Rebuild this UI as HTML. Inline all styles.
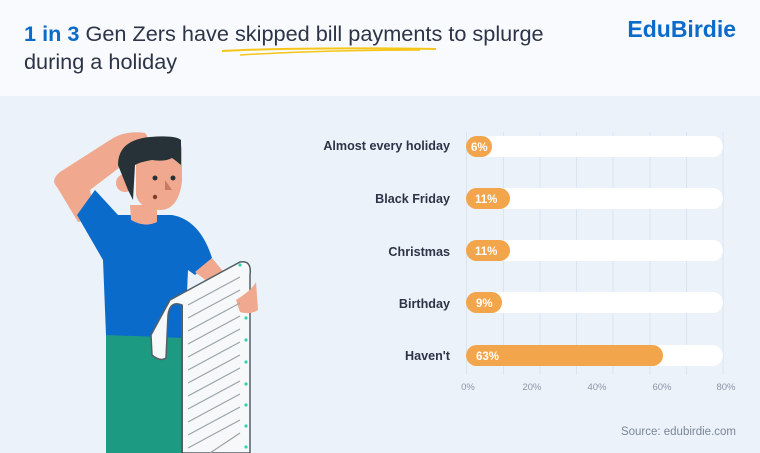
<!DOCTYPE html>
<html><head><meta charset="utf-8"><style>
body{margin:0;width:760px;height:453px;overflow:hidden;background:#ebf2fa;font-family:"Liberation Sans",sans-serif;}
</style></head><body>
<svg width="760" height="453" viewBox="0 0 760 453" xmlns="http://www.w3.org/2000/svg" style="position:absolute;left:0;top:0">
<rect x="0" y="0" width="760" height="96" fill="#f8fafd"/>
<rect x="0" y="96" width="760" height="357" fill="#ebf2fa"/>
<text x="24" y="41" font-size="21.7" fill="#2d3447"><tspan fill="#0b6bcb" font-weight="bold">1 in 3</tspan> Gen Zers have skipped bill payments to splurge</text>
<text x="24" y="69" font-size="21.7" fill="#2d3447">during a holiday</text>
<path d="M222 51 Q300 47 436 49" stroke="#f5c518" stroke-width="2" fill="none"/>
<path d="M240 55 Q320 50 420 50" stroke="#f5c518" stroke-width="1.5" fill="none"/>
<text x="736" y="37" font-size="23" font-weight="bold" fill="#0b6bcb" text-anchor="end">EduBirdie</text>

<g stroke="#d8e6f4" stroke-width="1">
<line x1="466.5" y1="132" x2="466.5" y2="375"/><line x1="503.5" y1="132" x2="503.5" y2="375"/>
<line x1="540" y1="132" x2="540" y2="375"/><line x1="576.5" y1="132" x2="576.5" y2="375"/>
<line x1="613" y1="132" x2="613" y2="375"/><line x1="650" y1="132" x2="650" y2="375"/>
<line x1="686.5" y1="132" x2="686.5" y2="375"/><line x1="723" y1="132" x2="723" y2="375"/>
</g>
<g font-size="12.6" fill="#2d3447" font-weight="bold" text-anchor="end">
<text x="450" y="150">Almost every holiday</text>
<text x="450" y="203">Black Friday</text>
<text x="450" y="256">Christmas</text>
<text x="450" y="308">Birthday</text>
<text x="450" y="360">Haven't</text>
</g>
<g fill="#ffffff">
<rect x="466" y="136" width="257" height="21" rx="10.5"/>
<rect x="466" y="188" width="257" height="21" rx="10.5"/>
<rect x="466" y="240" width="257" height="21" rx="10.5"/>
<rect x="466" y="292" width="257" height="21" rx="10.5"/>
<rect x="466" y="345" width="257" height="21" rx="10.5"/>
</g>
<g fill="#f2a54a">
<rect x="466" y="136" width="26" height="21" rx="10.5"/>
<rect x="466" y="188" width="44" height="21" rx="10.5"/>
<rect x="466" y="240" width="44" height="21" rx="10.5"/>
<rect x="466" y="292" width="36" height="21" rx="10.5"/>
<rect x="466" y="345" width="197" height="21" rx="10.5"/>
</g>
<g font-size="11.5" fill="#fff" font-weight="bold">
<text x="471" y="151">6%</text>
<text x="475" y="203">11%</text>
<text x="475" y="255">11%</text>
<text x="476" y="307">9%</text>
<text x="476" y="360">63%</text>
</g>
<g font-size="9.5" fill="#8b96a8" text-anchor="middle">
<text x="468" y="390">0%</text><text x="532" y="390">20%</text><text x="597" y="390">40%</text><text x="662" y="390">60%</text><text x="726" y="390">80%</text>
</g>
<text x="736" y="435" font-size="11.5" fill="#7a8598" text-anchor="end">Source: edubirdie.com</text>

<path d="M106 330 L185 330 L182 453 L106 453 Z" fill="#1d9a82"/>
<path d="M57 187 Q50 180 60 172 L110 140 Q125 130 145 133 Q152 140 140 152 L90 190 L96 218 L78 222 Z" fill="#f0a98f"/>
<path d="M77 215 L95 190 L118 215 L172 215 Q200 220 212 258 L195 275 L188 270 L185 338 L106 335 L103 260 Z" fill="#0b6bcb"/>
<path d="M130 205 L157 205 L157 222 Q145 228 131 220 Z" fill="#f0a98f"/>
<path d="M195 272 L212 258 L222 270 L230 280 L216 288 Z" fill="#f0a98f"/>
<path d="M136 150 Q138 138 160 138 Q182 136 182 150 L182 182 Q178 210 160 210 Q140 210 136 195 Z" fill="#f0a98f"/>
<circle cx="125" cy="183" r="9" fill="#f0a98f"/>
<path d="M118 165 Q118 140 150 137 Q175 135 181 140 L181 165 Q175 160 172 158 Q165 162 152 160 Q140 162 135 165 L133 200 L128 190 Z" fill="#263238"/>
<circle cx="155" cy="178" r="2.5" fill="#263238"/><circle cx="173" cy="178" r="2.5" fill="#263238"/>
<path d="M165 180 L172 190 L165 190 Z" fill="#c97a5f"/>
<circle cx="155" cy="197" r="2.2" fill="#7a3e2e"/>
<path d="M151 335 L170 300 L240 262 Q252 260 250 275 L250 453 L182 453 L182 305 Q170 300 168 315 L166 358 Q160 362 152 355 Z" fill="#f7f8f9" stroke="#546066" stroke-width="1.5"/>
<path d="M182 453 L182 305" stroke="#546066" stroke-width="2"/>
<path d="M236 300 Q252 290 256 282 L258 310 Q250 315 240 312 Z" fill="#f0a98f"/>
<g stroke="#9aa4a8" stroke-width="1.2">
<line x1="188" y1="305" x2="240" y2="277"/><line x1="188" y1="318" x2="240" y2="290"/><line x1="188" y1="331" x2="240" y2="303"/>
<line x1="188" y1="344" x2="240" y2="316"/><line x1="188" y1="357" x2="240" y2="329"/><line x1="188" y1="370" x2="240" y2="342"/>
<line x1="188" y1="383" x2="240" y2="355"/><line x1="188" y1="396" x2="240" y2="368"/><line x1="188" y1="409" x2="240" y2="381"/>
<line x1="188" y1="422" x2="240" y2="394"/><line x1="188" y1="435" x2="240" y2="407"/><line x1="188" y1="448" x2="240" y2="420"/>
<line x1="210" y1="453" x2="240" y2="433"/>
</g>
<g fill="#2fd6b0">
<circle cx="240" cy="265" r="1.6"/><circle cx="246" cy="318" r="1.6"/><circle cx="246" cy="340" r="1.6"/><circle cx="246" cy="362" r="1.6"/><circle cx="246" cy="384" r="1.6"/><circle cx="246" cy="405" r="1.6"/><circle cx="246" cy="426" r="1.6"/><circle cx="246" cy="447" r="1.6"/>
</g>
</svg>
</body></html>
